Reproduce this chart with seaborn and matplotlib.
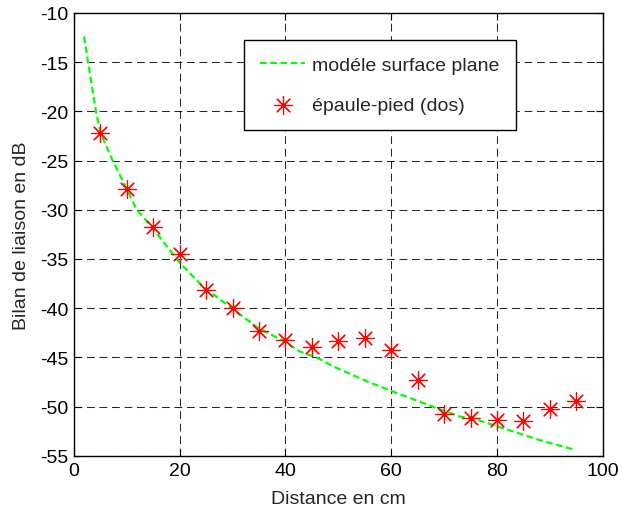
import matplotlib
matplotlib.use("Agg")
import matplotlib.pyplot as plt
import seaborn as sns
import pandas as pd

# Model curve
model_x = [1.9, 2.65, 4.15, 5.0, 7.3, 10.0, 11.85, 14.8, 20.0, 24.4, 29.8, 34.8,
           39.9, 42.7, 45.9, 49.0, 55.3, 60.0, 67.9, 73.0, 75.5, 80.1, 88.1, 94.9]
model_y = [-12.4, -15.0, -20.0, -22.2, -25.0, -27.9, -30.0, -31.8, -35.4, -37.8, -40.0, -42.0,
           -43.4, -44.4, -45.0, -45.9, -47.4, -48.4, -50.0, -51.0, -51.2, -52.0, -53.4, -54.4]

# Measurements
meas_x = [5, 10, 15, 20, 25, 30, 35, 40, 45, 50, 55, 60, 65, 70, 75, 80, 85, 90, 95]
meas_y = [-22.2, -27.9, -31.8, -34.5, -38.1, -40.0, -42.3, -43.2, -43.9, -43.3, -43.0,
          -44.2, -47.3, -50.7, -51.1, -51.3, -51.5, -50.2, -49.4]

x_ticks = [0, 20, 40, 60, 80, 100]
y_ticks = [-55, -50, -45, -40, -35, -30, -25, -20, -15, -10]

label_model = "modéle surface plane"
label_meas = "épaule-pied (dos)"
xlabel = "Distance en cm"
ylabel = "Bilan de liaison en dB"

FS = 14

sns.set_style("white")
plt.rcParams['font.family'] = ['Liberation Sans', 'DejaVu Sans']
plt.rcParams['font.size'] = FS

fig = plt.figure(figsize=(6.22, 5.10), dpi=100)
ax = fig.add_axes([0.119, 0.104, 0.850, 0.869])

df_model = pd.DataFrame({"x": model_x, "y": model_y})
df_meas = pd.DataFrame({"x": meas_x, "y": meas_y})

sns.lineplot(data=df_model, x="x", y="y", ax=ax, color=(0, 1, 0), linewidth=1.6,
             linestyle=(0, (3, 1.6)), label=label_model, sort=False, zorder=3)
sns.scatterplot(data=df_meas, x="x", y="y", ax=ax, color=(1, 0, 0),
                marker=(8, 2, 0), s=13 ** 2, linewidth=0.85,
                label=label_meas, zorder=4)

ax.set_xlim(0, 100)
ax.set_ylim(-55, -10)
ax.set_xticks(x_ticks)
ax.set_yticks(y_ticks)
ax.set_xticklabels([str(v) for v in x_ticks])
ax.set_yticklabels([str(v) for v in y_ticks])

ax.grid(True, color='black', linewidth=0.75, linestyle=(0, (7.5, 4.5)), alpha=0.85)
ax.set_axisbelow(True)

ax.tick_params(direction='in', length=5, width=0.8, top=True, right=True,
               bottom=True, left=True, labelsize=FS, pad=4, colors='black')
for s in ax.spines.values():
    s.set_visible(True)
    s.set_color('black')
    s.set_linewidth(1.0)

ax.set_xlabel(xlabel, fontsize=FS, labelpad=8)
ax.set_ylabel(ylabel, fontsize=FS, labelpad=7)

leg = ax.legend(loc='upper left', bbox_to_anchor=(0.321, 0.939), borderaxespad=0,
                fancybox=False, frameon=True, edgecolor='black', framealpha=1,
                fontsize=FS, handlelength=2.3, handletextpad=0.35,
                labelspacing=1.15, borderpad=0.85)
leg.get_frame().set_linewidth(1.0)

fig.savefig("out.png", dpi=100)
